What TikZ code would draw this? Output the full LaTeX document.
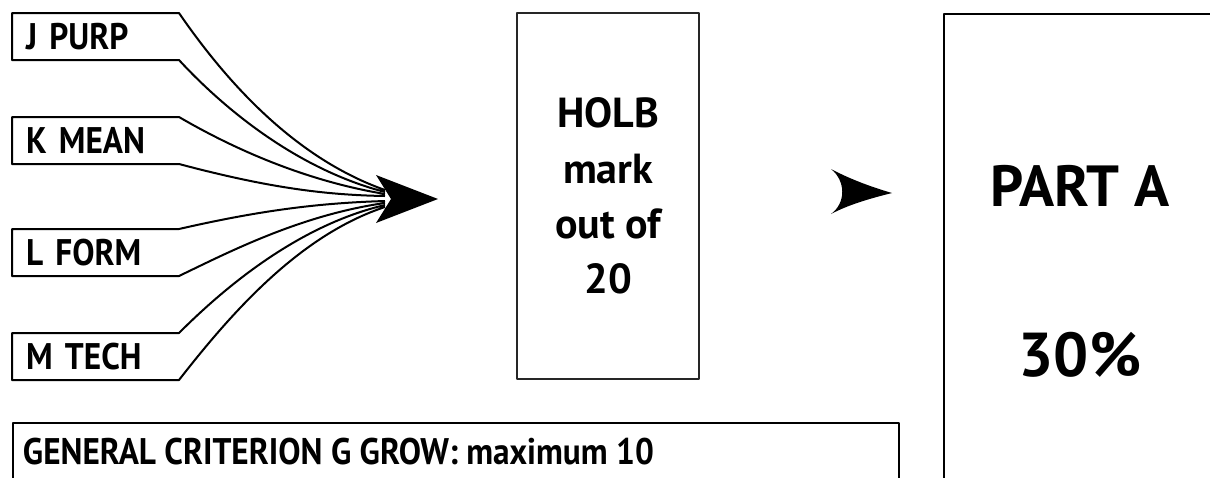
\documentclass[tikz,border=0pt]{standalone}
\usepackage{fontspec}
\setmainfont{PT Sans}
\newfontfamily\narrowfont{PT Sans}[FakeStretch=0.9]
\usetikzlibrary{positioning,calc}

\tikzset{
  critbox/.style={anchor=north west, minimum height=22.5pt, text width=69.5pt,
    inner xsep=6.5pt, inner ysep=0pt, align=left,
    font=\narrowfont\bfseries\fontsize{18.5}{20}\selectfont},
  holbbox/.style={draw=black!85, line width=0.9pt, align=center,
    font=\bfseries\fontsize{21}{27.7}\selectfont},
  bigtext/.style={font=\bfseries\fontsize{29}{34}\selectfont, inner sep=0pt}
}

\begin{document}
\begin{tikzpicture}[x=0.5pt, y=-0.5pt, line width=1pt, line join=round]
\useasboundingbox (0,0) rectangle (1210,477);
\clip (0,0) rectangle (1210,477);

% Kriterien links
\node[critbox] (purp) at (12,13)  {J PURP};
\node[critbox] (mean) at (12,117) {K MEAN};
\node[critbox] (form) at (12,229) {L FORM};
\node[critbox] (tech) at (12,333) {M TECH};

% Sammelpunkt der Linien
\coordinate (tip) at (385,199);

% Rahmen mit Linien zum Pfeil
\draw ($(tip)+(0,-9)$) .. controls +(-85,-30) and +(53,77) .. (purp.north east)
  -- (purp.north west) -- (purp.south west) -- (purp.south east)
  .. controls +(48,52) and +(-85,-22) .. ($(tip)+(0,-7)$);
\draw ($(tip)+(0,-5)$) .. controls +(-85,-14) and +(48,28) .. (mean.north east)
  -- (mean.north west) -- (mean.south west) -- (mean.south east)
  .. controls +(83,22) and +(-65,-1) .. ($(tip)+(0,-3)$);
\draw ($(tip)+(0,2)$) .. controls +(-65,2) and +(83,-19) .. (form.north east)
  -- (form.north west) -- (form.south west) -- (form.south east)
  .. controls +(48,-23) and +(-85,12) .. ($(tip)+(0,4)$);
\draw ($(tip)+(0,6)$) .. controls +(-85,20) and +(48,-48) .. (tech.north east)
  -- (tech.north west) -- (tech.south west) -- (tech.south east)
  .. controls +(53,-68) and +(-85,28) .. ($(tip)+(0,8)$);

% Pfeilspitze
\fill (438,199) -- (376,175) -- (391,199) -- (376,223) -- cycle;

% HOLB
\node[holbbox, minimum width=91pt, minimum height=183pt] (holb) at (608,196)
  {HOLB\\mark\\out of\\20};

% zweite Pfeilspitze
\fill (892,193) .. controls (868,186) and (848,178) .. (831,169)
  .. controls (846,181) and (846,203) .. (831,214)
  .. controls (848,205) and (868,199) .. cycle;

% Teil A
\node[draw, anchor=north west, minimum width=160pt, minimum height=260pt,
  inner sep=0pt] (parta) at (943,13) {};
\node[bigtext] (parttitle) at (1080,186) {PART A};
\node[bigtext, font=\bfseries\fontsize{31}{34}\selectfont] (partshare)
  at (1080,355) {30\%};

% allgemeines Kriterium
\node[draw, anchor=north west, minimum width=443pt, minimum height=40pt,
  inner sep=0pt] (genbox) at (12,422) {};
\node[below right=7.5pt and 5pt of genbox.north west, inner sep=0pt,
  font=\narrowfont\bfseries\fontsize{18.5}{20}\selectfont] (gentext)
  {GENERAL CRITERION G GROW: maximum 10};
\end{tikzpicture}
\end{document}
